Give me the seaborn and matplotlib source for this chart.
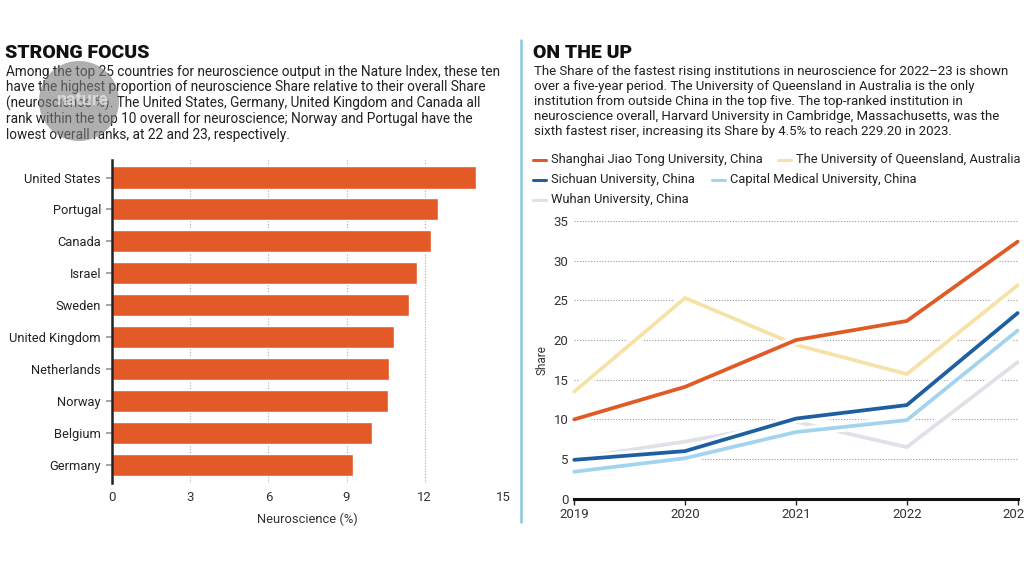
import matplotlib
matplotlib.use("Agg")
import matplotlib.pyplot as plt
import matplotlib.patheffects as pe
from matplotlib.lines import Line2D
from matplotlib.patches import Ellipse
import pandas as pd
import seaborn as sns


# data
COUNTRIES = ["United States", "Portugal", "Canada", "Israel", "Sweden",
             "United Kingdom", "Netherlands", "Norway", "Belgium", "Germany"]
NEURO_PCT = [13.95, 12.52, 12.25, 11.70, 11.41, 10.82, 10.64, 10.59, 9.99, 9.23]
BAR_TICKS = [0, 3, 6, 9, 12, 15]

YEARS = [2019, 2020, 2021, 2022, 2023]
INSTITUTIONS = ["Wuhan University, China",
                "Capital Medical University, China",
                "Sichuan University, China",
                "The University of Queensland, Australia",
                "Shanghai Jiao Tong University, China"]
SHARE = {
    "Wuhan University, China": [5.1, 7.2, 9.7, 6.5, 17.2],
    "Capital Medical University, China": [3.4, 5.1, 8.4, 9.9, 21.2],
    "Sichuan University, China": [4.9, 6.0, 10.1, 11.8, 23.4],
    "The University of Queensland, Australia": [13.5, 25.3, 19.4, 15.7, 26.9],
    "Shanghai Jiao Tong University, China": [10.0, 14.1, 20.0, 22.4, 32.4],
}
SHARE_TICKS = [0, 5, 10, 15, 20, 25, 30, 35]

COLORS = {
    "Shanghai Jiao Tong University, China": "#e05a26",
    "The University of Queensland, Australia": "#f6e2a6",
    "Sichuan University, China": "#1d5fa1",
    "Capital Medical University, China": "#a3d4ef",
    "Wuhan University, China": "#dfe1e7",
}
BAR_COLOR = "#e35a26"

LEFT_TEXT = ("Among the top 25 countries for neuroscience output in the Nature Index, these ten\n"
             "have the highest proportion of neuroscience Share relative to their overall Share\n"
             "(neuroscience %). The United States, Germany, United Kingdom and Canada all\n"
             "rank within the top 10 overall for neuroscience; Norway and Portugal have the\n"
             "lowest overall ranks, at 22 and 23, respectively.")
RIGHT_TEXT = ("The Share of the fastest rising institutions in neuroscience for 2022\u201323 is shown\n"
              "over a five-year period. The University of Queensland in Australia is the only\n"
              "institution from outside China in the top five. The top-ranked institution in\n"
              "neuroscience overall, Harvard University in Cambridge, Massachusetts, was the\n"
              "sixth fastest riser, increasing its Share by 4.5% to reach 229.20 in 2023.")

W, H = 1024, 576


def fx(px):
    return px / W


def fy(py):
    return 1 - py / H


def main():
    sns.set_theme(style="white")
    plt.rcParams["font.family"] = ["Roboto", "DejaVu Sans"]
    fig = plt.figure(figsize=(10.24, 5.76), dpi=100)

    # ---- left panel: bars
    fig.text(fx(5), fy(53), "STRONG FOCUS", fontsize=14, fontweight="black",
             va="center", color="#111111")
    fig.text(fx(6), fy(65), LEFT_TEXT, fontsize=9.85, va="top", color="#222222",
             linespacing=1.12)

    bar_df = pd.DataFrame({"country": COUNTRIES, "pct": NEURO_PCT})
    ax1 = fig.add_axes([0.1094, 0.1615, 0.3818, 0.5608])
    sns.barplot(bar_df, x="pct", y="country", color=BAR_COLOR, width=0.69,
                saturation=1, ax=ax1, zorder=3)
    ax1.set_xlim(0, 15)
    ax1.set_ylim(9.57, -0.55)
    ax1.set_xticks(BAR_TICKS)
    ax1.set_xticklabels([str(t) for t in BAR_TICKS], fontsize=9.5, color="#333333")
    ax1.set_xlabel("Neuroscience (%)", fontsize=9.3, color="#333333", labelpad=6)
    ax1.set_ylabel("")
    ax1.tick_params(axis="y", length=4, color="#999999", labelsize=9.3,
                    labelcolor="#222222", left=True, pad=4)
    ax1.tick_params(axis="x", length=0, pad=6)
    for t in BAR_TICKS[1:]:
        ax1.axvline(t, color="#aaaaaa", lw=0.8, ls=(0, (1, 1.5)), zorder=1)
    for s in ["top", "right", "bottom"]:
        ax1.spines[s].set_visible(False)
    ax1.spines["left"].set_color("#222222")
    ax1.spines["left"].set_linewidth(1.8)
    ax1.spines["left"].set_zorder(4)

    # watermark
    fig.add_artist(Ellipse((fx(79), fy(101)), 80 / W, 80 / H, transform=fig.transFigure,
                           facecolor="#7a7a7a", alpha=0.6, edgecolor="none", zorder=5))
    fig.text(fx(82), fy(100), "nature", fontsize=13, fontweight="bold", color="#e8e8e8",
             ha="center", va="center", alpha=0.75, zorder=6)

    # separator
    fig.add_artist(Line2D([fx(521), fx(521)], [fy(40), fy(522)],
                          color="#8cc8dc", lw=1.8))

    # ---- right panel: lines
    fig.text(fx(533), fy(53), "ON THE UP", fontsize=14, fontweight="black",
             va="center", color="#111111")
    fig.text(fx(534), fy(65), RIGHT_TEXT, fontsize=9.5, va="top", color="#222222",
             linespacing=1.21)

    # legend laid out as in the reference
    legend_rows = [
        [("Shanghai Jiao Tong University, China", 533), ("The University of Queensland, Australia", 778)],
        [("Sichuan University, China", 533), ("Capital Medical University, China", 712)],
        [("Wuhan University, China", 533)],
    ]
    for r, row in enumerate(legend_rows):
        yy = fy(160 + 20 * r)
        for name, x0 in row:
            fig.add_artist(Line2D([fx(x0), fx(x0 + 13)], [yy, yy],
                                  color=COLORS[name], lw=2.2))
            fig.text(fx(x0 + 18), yy, name, fontsize=9.3, va="center",
                     color="#222222")

    line_df = pd.DataFrame([
        {"year": y, "inst": name, "share": v}
        for name in INSTITUTIONS for y, v in zip(YEARS, SHARE[name])
    ])
    ax2 = fig.add_axes([0.5608, 0.1342, 0.4330, 0.4821])
    for t in SHARE_TICKS[1:]:
        ax2.axhline(t, color="#999999", lw=0.8, ls=(0, (1, 1.5)), zorder=1)
    sns.lineplot(line_df, x="year", y="share", hue="inst", hue_order=INSTITUTIONS,
                 palette=COLORS, lw=2.7, legend=False, ax=ax2, zorder=3)
    for ln in ax2.lines[len(SHARE_TICKS) - 1:]:
        ln.set_path_effects([pe.Stroke(linewidth=7, foreground="white"), pe.Normal()])
        ln.set_clip_on(False)
        ln.set_solid_joinstyle("miter")
    ax2.set_xlim(2019, 2023)
    ax2.set_ylim(0, 35)
    ax2.set_xticks(YEARS)
    ax2.set_xticklabels([str(y) for y in YEARS], fontsize=9.5, color="#333333")
    ax2.set_yticks(SHARE_TICKS)
    ax2.set_yticklabels([str(t) for t in SHARE_TICKS], fontsize=9.5, color="#333333")
    ax2.tick_params(axis="x", length=4, width=1, color="#222222", bottom=True, pad=3)
    ax2.tick_params(axis="y", length=0, pad=4)
    ax2.set_xlabel("")
    ax2.set_ylabel("Share", fontsize=8.5, color="#333333", labelpad=4)
    for s in ["top", "right", "left"]:
        ax2.spines[s].set_visible(False)
    ax2.spines["bottom"].set_color("#111111")
    ax2.spines["bottom"].set_linewidth(2.2)
    ax2.spines["bottom"].set_zorder(4)

    fig.savefig("out.png", dpi=100)
    plt.close(fig)


if __name__ == "__main__":
    main()
